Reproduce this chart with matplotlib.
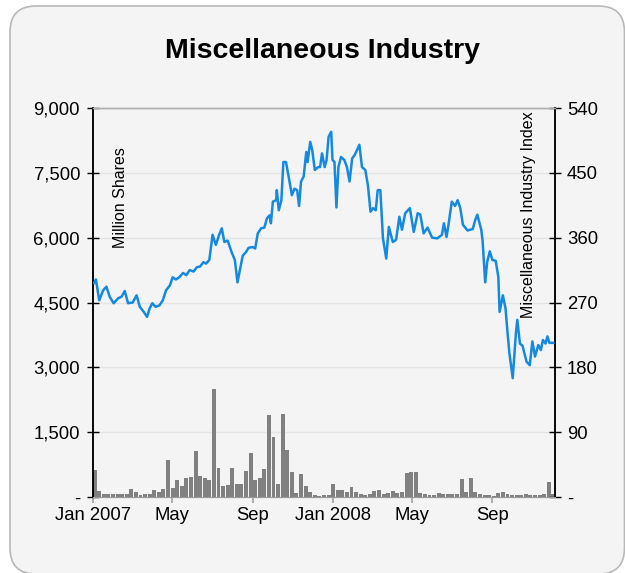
import matplotlib
matplotlib.use('Agg')
import matplotlib.pyplot as plt
from matplotlib.patches import FancyBboxPatch
from matplotlib.transforms import IdentityTransform
import pandas as pd

BG = '#f4f4f4'
LINE_BLUE = '#1589e0'
BAR_GREY = '#808080'

plt.rcParams['font.family'] = ['Liberation Sans', 'DejaVu Sans']

# ── Index (right axis) ───────────────────────────────────────────────────────
idx_dates = [
    '2007-01-02', '2007-01-05', '2007-01-10', '2007-01-16', '2007-01-21', '2007-01-26',
    '2007-02-01', '2007-02-08', '2007-02-13', '2007-02-18', '2007-02-23', '2007-03-02',
    '2007-03-08', '2007-03-13', '2007-03-19', '2007-03-24', '2007-03-28', '2007-04-01',
    '2007-04-06', '2007-04-12', '2007-04-17', '2007-04-22', '2007-04-28', '2007-05-02',
    '2007-05-07', '2007-05-12', '2007-05-18', '2007-05-23', '2007-05-28', '2007-06-03',
    '2007-06-08', '2007-06-13', '2007-06-18', '2007-06-22', '2007-06-27', '2007-07-02',
    '2007-07-07', '2007-07-12', '2007-07-16', '2007-07-20', '2007-07-25', '2007-07-31',
    '2007-08-05', '2007-08-09', '2007-08-12', '2007-08-17', '2007-08-22', '2007-08-26',
    '2007-09-01', '2007-09-05', '2007-09-09', '2007-09-14', '2007-09-19', '2007-09-23',
    '2007-09-27', '2007-09-29', '2007-10-02', '2007-10-07', '2007-10-08', '2007-10-11',
    '2007-10-15', '2007-10-18', '2007-10-22', '2007-10-27', '2007-10-31', '2007-11-04',
    '2007-11-08', '2007-11-11', '2007-11-14', '2007-11-18', '2007-11-22', '2007-11-24',
    '2007-11-28', '2007-12-01', '2007-12-05', '2007-12-10', '2007-12-13', '2007-12-16',
    '2007-12-20', '2007-12-23', '2007-12-26', '2007-12-30', '2008-01-01', '2008-01-04',
    '2008-01-07', '2008-01-10', '2008-01-14', '2008-01-19', '2008-01-23', '2008-01-27',
    '2008-01-31', '2008-02-04', '2008-02-11', '2008-02-15', '2008-02-20', '2008-02-24',
    '2008-02-28', '2008-03-03', '2008-03-07', '2008-03-10', '2008-03-14', '2008-03-18',
    '2008-03-23', '2008-03-27', '2008-04-02', '2008-04-07', '2008-04-12', '2008-04-16',
    '2008-04-21', '2008-04-28', '2008-05-04', '2008-05-10', '2008-05-14', '2008-05-19',
    '2008-05-25', '2008-06-01', '2008-06-09', '2008-06-16', '2008-06-19', '2008-06-23',
    '2008-06-26', '2008-07-01', '2008-07-06', '2008-07-10', '2008-07-14', '2008-07-18',
    '2008-07-25', '2008-08-02', '2008-08-06', '2008-08-09', '2008-08-15', '2008-08-17',
    '2008-08-21', '2008-08-24', '2008-08-28', '2008-09-01', '2008-09-06', '2008-09-10',
    '2008-09-12', '2008-09-17', '2008-09-21', '2008-09-24', '2008-09-27', '2008-10-02',
    '2008-10-07', '2008-10-09', '2008-10-13', '2008-10-17', '2008-10-23', '2008-10-28',
    '2008-11-01', '2008-11-05', '2008-11-10', '2008-11-14', '2008-11-17', '2008-11-21',
    '2008-11-24', '2008-11-27', '2008-12-03',
]
idx_values = [
    297, 302, 273, 287, 292, 278,
    269, 276, 278, 286, 269, 270,
    280, 264, 257, 250, 262, 269,
    264, 266, 273, 287, 294, 305,
    302, 305, 311, 308, 315, 313,
    319, 320, 326, 324, 329, 364,
    350, 364, 373, 354, 356, 340,
    329, 298, 312, 335, 340, 346,
    347, 345, 366, 373, 374, 387,
    391, 380, 410, 412, 426, 398,
    412, 465, 465, 440, 419, 428,
    426, 404, 438, 445, 479, 465,
    493, 482, 454, 458, 458, 477,
    458, 468, 500, 507, 468, 465,
    402, 458, 472, 468, 458, 438,
    470, 475, 489, 458, 454, 433,
    396, 401, 398, 426, 426, 359,
    331, 375, 354, 357, 389, 371,
    394, 401, 368, 394, 392, 366,
    374, 360, 359, 364, 380, 361,
    378, 410, 404, 412, 401, 378,
    370, 372, 385, 392, 371, 356,
    298, 326, 341, 329, 328, 306,
    257, 280, 262, 229, 199, 165,
    229, 246, 213, 210, 188, 183,
    216, 195, 211, 204, 218, 213,
    223, 214, 214,
]

# ── Volume, million shares (left axis), weekly ───────────────────────────────
vol_start = '2007-01-03'
vol_values = [
    625, 150, 80, 70, 60, 60, 70, 80, 180, 120,
    50, 70, 80, 170, 120, 180, 855, 200, 395, 250,
    430, 470, 1065, 490, 450, 400, 2490, 660, 250, 280,
    680, 300, 300, 610, 1010, 400, 430, 640, 1900, 1390,
    300, 1920, 1090, 580, 100, 525, 250, 110, 50, 30,
    40, 50, 300, 160, 160, 120, 240, 120, 60, 50,
    60, 140, 160, 60, 85, 140, 100, 110, 560, 580,
    580, 90, 60, 50, 50, 90, 60, 60, 80, 70,
    420, 120, 440, 115, 80, 55, 40, 30, 85, 110,
    60, 45, 40, 40, 70, 50, 55, 50, 60, 350,
    70,
]

left_ticks = [0, 1500, 3000, 4500, 6000, 7500, 9000]
left_labels = ['-', '1,500', '3,000', '4,500', '6,000', '7,500', '9,000']
right_ticks = [0, 90, 180, 270, 360, 450, 540]
right_labels = ['-', '90', '180', '270', '360', '450', '540']
x_ticks = ['2007-01-01', '2007-05-01', '2007-09-01', '2008-01-01', '2008-05-01', '2008-09-01']
x_labels = ['Jan 2007', 'May', 'Sep', 'Jan 2008', 'May', 'Sep']

idx_dt = pd.to_datetime(idx_dates)
vol_dt = pd.date_range(vol_start, periods=len(vol_values), freq='7D')

# ── Figure ───────────────────────────────────────────────────────────────────
fig = plt.figure(figsize=(6.25, 5.73), dpi=100, facecolor='white')

# rounded panel (display pixels)
box = FancyBboxPatch((10, -1), 614.5, 568, boxstyle='round,pad=0,rounding_size=26',
                     transform=IdentityTransform(), facecolor=BG, edgecolor='#b8b8b8',
                     lw=1.2, zorder=-10)
fig.add_artist(box)

ax = fig.add_axes([0.1493, 0.1326, 0.7392, 0.6789])
ax.set_facecolor(BG)
ax.bar(vol_dt, vol_values, width=6, color=BAR_GREY, edgecolor='none', zorder=2)
ax.set_ylim(0, 9000)
ax.set_yticks(left_ticks)
ax.set_yticklabels(left_labels)
ax.grid(axis='y', color='#e4e4e4', lw=1.0, zorder=0)
ax.set_axisbelow(True)

ax2 = ax.twinx()
ax2.plot(idx_dt, idx_values, color=LINE_BLUE, lw=1.8, zorder=3)
ax2.set_ylim(0, 540)
ax2.set_yticks(right_ticks)
ax2.set_yticklabels(right_labels)

ax.set_xlim(pd.Timestamp('2007-01-01'), pd.Timestamp('2008-12-06'))
ax.set_xticks(pd.to_datetime(x_ticks))
ax.set_xticklabels(x_labels)

for a in (ax, ax2):
    a.spines['top'].set_color('#b0b0b0')
    a.spines['top'].set_linewidth(1.0)
    a.spines['bottom'].set_color('#9a9a9a')
    a.spines['left'].set_color('black')
    a.spines['right'].set_color('black')
    a.spines['left'].set_linewidth(1.1)
    a.spines['right'].set_linewidth(1.1)

ax.tick_params(axis='y', direction='inout', length=9, width=1.0, labelsize=13.3, pad=5)
ax2.tick_params(axis='y', direction='inout', length=9, width=1.0, labelsize=13.3, pad=4)
ax.tick_params(axis='x', direction='out', length=4.5, width=1.2, color='#a0a0a0',
               labelsize=13.3, pad=3)

ax.text(0.058, 0.90, 'Million Shares', transform=ax.transAxes, rotation=90,
        ha='center', va='top', fontsize=11.5)
ax.text(0.941, 0.992, 'Miscellaneous Industry Index', transform=ax.transAxes,
        rotation=90, ha='center', va='top', fontsize=11.5, zorder=5)

fig.text(0.516, 1 - 51 / 573, 'Miscellaneous Industry', ha='center', va='center',
         fontsize=20.5, fontweight='bold')

fig.savefig('out.png', dpi=100, facecolor='white')
